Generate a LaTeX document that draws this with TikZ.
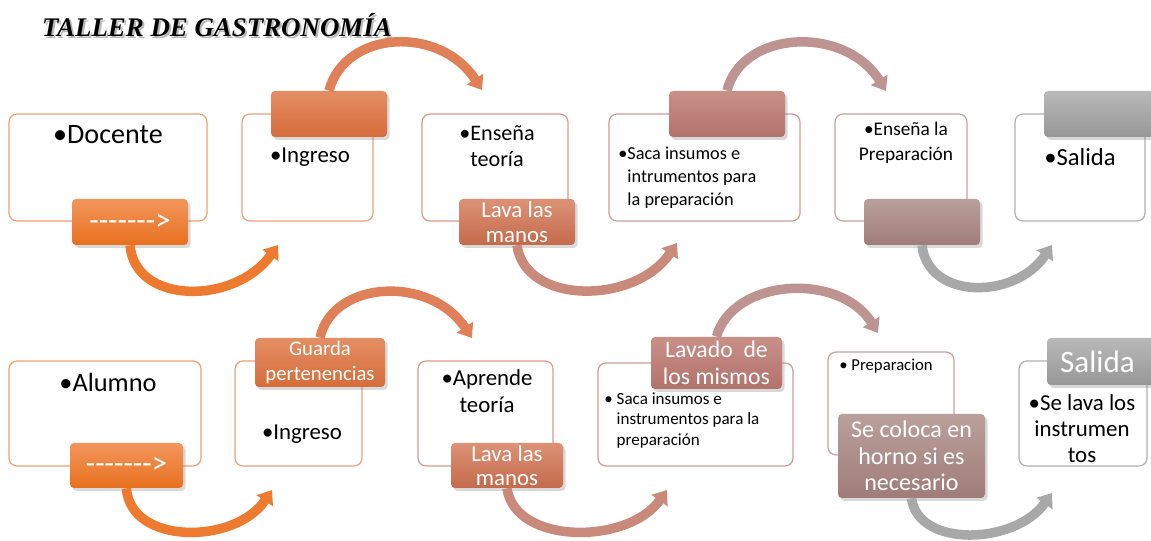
\documentclass[tikz,border=0pt]{standalone}
\usepackage{fontspec}
\setmainfont{Carlito}
\newfontfamily\titlefont{Liberation Serif}
\usetikzlibrary{arrows.meta}
\usetikzlibrary{shadows}

\definecolor{bordeA}{HTML}{F0A070}
\definecolor{bordeB}{HTML}{EAA27E}
\definecolor{bordeC}{HTML}{DA9C88}
\definecolor{bordeD}{HTML}{CE9C97}
\definecolor{bordeE}{HTML}{C2A4A2}
\definecolor{bordeF}{HTML}{B0B0B0}
\definecolor{flechaA}{HTML}{EE7A30}
\definecolor{flechaB}{HTML}{E08058}
\definecolor{flechaC}{HTML}{C98A7C}
\definecolor{flechaD}{HTML}{BE9492}
\definecolor{flechaE}{HTML}{A8A8A8}
% pestanas: claro arriba, oscuro abajo
\definecolor{pAa}{HTML}{F2965C} \definecolor{pAb}{HTML}{E8701F}
\definecolor{pBa}{HTML}{E48E64} \definecolor{pBb}{HTML}{D66C3A}
\definecolor{pCa}{HTML}{DC9276} \definecolor{pCb}{HTML}{C46A4C}
\definecolor{pDa}{HTML}{C99088} \definecolor{pDb}{HTML}{B2726C}
\definecolor{pEa}{HTML}{BAA09C} \definecolor{pEb}{HTML}{A07C79}
\definecolor{pFa}{HTML}{B9B9B9} \definecolor{pFb}{HTML}{979797}

\tikzset{
    caja/.style={draw=#1, fill=white, rounded corners=1.6mm, line width=0.25mm},
    pestana/.style 2 args={top color=#1, bottom color=#2, draw=none, rounded corners=0.8mm,
        text=white, align=center, inner sep=0pt,
        drop shadow={opacity=0.3, shadow xshift=0.5mm, shadow yshift=-0.6mm}},
    dims/.style 2 args={minimum width=#1*0.2mm, minimum height=#2*0.2mm},
    texto/.style={inner sep=0pt, align=center, text=black},
    flecha/.style={line width=1.9mm, draw=#1, -{Triangle[length=2.6mm, width=3.8mm]}},
}

\begin{document}
\begin{tikzpicture}[x=0.2mm, y=-0.2mm]
        %   \draw [help lines] (0,0) grid (1151,541);
        \useasboundingbox (0,0) rectangle (1151,541);

        \node [text=gray!55, font=\titlefont\bfseries\itshape\fontsize{15.3}{18}\selectfont] (titsombra) at (219,27) {TALLER DE GASTRONOMÍA};
        \node [font=\titlefont\bfseries\itshape\fontsize{15.3}{18}\selectfont] (titulo) at (217,25) {TALLER DE GASTRONOMÍA};

        % fila docente
        \node [caja=bordeA, dims={198}{107}] (doc) at (108,167.5) {};
        \node [caja=bordeB, dims={131}{107}] (ing) at (307.5,167.5) {};
        \node [caja=bordeC, dims={146}{107}] (ens) at (495,167.5) {};
        \node [caja=bordeD, dims={191}{107}] (sac) at (704.5,167.5) {};
        \node [caja=bordeE, dims={132}{107}] (pre) at (901,167.5) {};
        \node [caja=bordeF, dims={130}{107}] (sal) at (1080,167.5) {};

        \node [texto, font=\fontsize{16}{19}\selectfont] (tdoc) at (108,135) {\textbullet Docente};
        \node [texto, font=\fontsize{13}{15}\selectfont] (ting) at (310,157) {\textbullet Ingreso};
        \node [texto, anchor=north, font=\fontsize{12.6}{14.8}\selectfont] (tens) at (497,125) {\textbullet Enseña\\teoría};
        \node [texto, anchor=north west, align=left, font=\fontsize{10.4}{13}\selectfont] (tsac) at (618,147) {\textbullet Saca insumos e\\\phantom{\textbullet}intrumentos para\\\phantom{\textbullet}la preparación};
        \node [texto, anchor=north, font=\fontsize{11}{14.2}\selectfont] (tpre) at (906,122) {\textbullet Enseña la\\Preparación};
        \node [texto, font=\fontsize{14}{16}\selectfont] (tsal) at (1080,157) {\textbullet Salida};

        \node [pestana={pAa}{pAb}, dims={116}{46}, font=\fontsize{17.5}{20}\selectfont] (p1) at (130,222) {-{}-{}-{}-{}-{}-{}-\textgreater};
        \node [pestana={pBa}{pBb}, dims={116}{46}] (p2) at (329,114) {};
        \node [pestana={pCa}{pCb}, dims={116}{46}, font=\fontsize{13}{14}\selectfont] (p3) at (517,222) {Lava las\\manos};
        \node [pestana={pDa}{pDb}, dims={116}{46}] (p4) at (727,114) {};
        \node [pestana={pEa}{pEb}, dims={116}{46}] (p5) at (922,222) {};
        \node [pestana={pFa}{pFb}, dims={116}{46}] (p6) at (1102,114) {};

        \coordinate (e1) at (278,245);
        \coordinate (e2) at (482,90);
        \coordinate (e3) at (677,243);
        \coordinate (e4) at (886,91);
        \coordinate (e5) at (1052,245);

        \draw [flecha=flechaA] (p1.south) .. controls (135,305) and (235,305) .. (e1);
        \draw [flecha=flechaB] (p2.north) .. controls (345,30) and (440,25) .. (e2);
        \draw [flecha=flechaC] (p3.south) .. controls (525,305) and (635,305) .. (e3);
        \draw [flecha=flechaD] (p4.north) .. controls (742,30) and (845,25) .. (e4);
        \draw [flecha=flechaE] (p5.south) .. controls (928,300) and (1015,300) .. (e5);

        % fila alumno
        \node [caja=bordeA, dims={192}{105}] (alu) at (105,413.5) {};
        \node [caja=bordeB, dims={127}{105}] (ing2) at (298.5,413.5) {};
        \node [caja=bordeC, dims={135}{105}] (apr) at (485.5,413.5) {};
        \node [caja=bordeD, dims={195}{103}] (sac2) at (695.5,414.5) {};
        \node [caja=bordeE, dims={126}{103}] (prep) at (891,403.5) {};
        \node [caja=bordeF, dims={128}{105}] (lav) at (1083,413.5) {};

        \node [texto, font=\fontsize{15}{18}\selectfont] (talu) at (108,382) {\textbullet Alumno};
        \node [texto, font=\fontsize{13}{15}\selectfont] (ting2) at (302,434) {\textbullet Ingreso};
        \node [texto, anchor=north, font=\fontsize{13}{15.4}\selectfont] (tapr) at (487,369) {\textbullet Aprende\\teoría};
        \node [texto, anchor=north west, align=left, font=\fontsize{9.7}{11.7}\selectfont] (tsac2) at (604,392) {\textbullet\ Saca insumos e\\\phantom{\textbullet\ }instrumentos para la\\\phantom{\textbullet\ }preparación};
        \node [texto, anchor=west, font=\fontsize{9.5}{11}\selectfont] (tprep) at (839,366) {\textbullet\ Preparacion};
        \node [texto, anchor=north, font=\fontsize{13}{14.8}\selectfont] (tlav) at (1082,394) {\textbullet Se lava los\\instrumen\\tos};

        \node [pestana={pAa}{pAb}, dims={113}{45}, font=\fontsize{17.5}{20}\selectfont] (q1) at (126.5,465.5) {-{}-{}-{}-{}-{}-{}-\textgreater};
        \node [pestana={pBa}{pBb}, dims={130}{49}, font=\fontsize{11.8}{13.7}\selectfont] (q2) at (320,362.5) {Guarda\\pertenencias};
        \node [pestana={pCa}{pCb}, dims={112}{45}, font=\fontsize{13}{14}\selectfont] (q3) at (507,465.5) {Lava las\\manos};
        \node [pestana={pDa}{pDb}, dims={131}{52}, font=\fontsize{13.5}{15}\selectfont] (q4) at (716.5,363) {Lavado \ de\\los mismos};
        \node [pestana={pEa}{pEb}, dims={147}{84}, font=\fontsize{13.7}{15}\selectfont] (q5) at (911.5,456) {Se coloca en\\horno si es\\necesario};
        \node [pestana={pFa}{pFb}, dims={116}{47}, font=\fontsize{17.7}{20}\selectfont] (q6) at (1105,361.5) {Salida\hspace{3mm}};

        \coordinate (f1) at (272,490);
        \coordinate (f2) at (472,338);
        \coordinate (f3) at (667,490);
        \coordinate (f4) at (878,333);
        \coordinate (f5) at (1052,493);

        \draw [flecha=flechaA] (q1.south) .. controls (130,545) and (235,545) .. (f1);
        \draw [flecha=flechaB] (q2.north) .. controls (333,280) and (430,275) .. (f2);
        \draw [flecha=flechaC] (q3.south) .. controls (515,545) and (628,545) .. (f3);
        \draw [flecha=flechaD] (q4.north) .. controls (733,278) and (840,272) .. (f4);
        \draw [flecha=flechaE] (q5.south) .. controls (918,548) and (1015,545) .. (f5);
\end{tikzpicture}
\end{document}
